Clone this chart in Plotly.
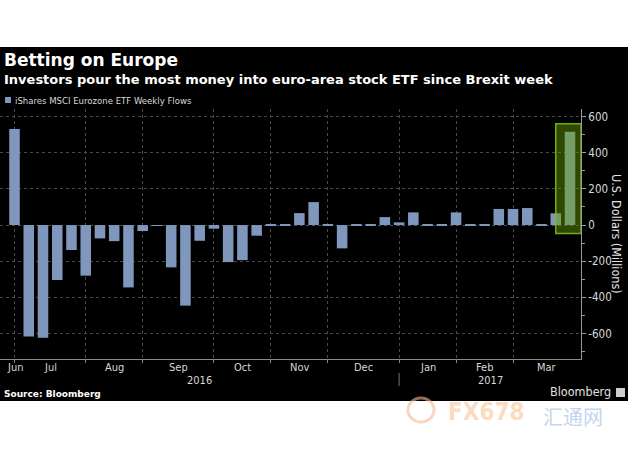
import plotly.graph_objects as go
from datetime import datetime, timedelta

# ---------------- data ----------------
weeks = ["2016-06-24", "2016-07-01", "2016-07-08", "2016-07-15", "2016-07-22", "2016-07-29",
         "2016-08-05", "2016-08-12", "2016-08-19", "2016-08-26",
         "2016-09-02", "2016-09-09", "2016-09-16", "2016-09-23", "2016-09-30",
         "2016-10-07", "2016-10-14", "2016-10-21", "2016-10-28",
         "2016-11-04", "2016-11-11", "2016-11-18", "2016-11-25",
         "2016-12-02", "2016-12-09", "2016-12-16", "2016-12-23", "2016-12-30",
         "2017-01-06", "2017-01-13", "2017-01-20", "2017-01-27",
         "2017-02-03", "2017-02-10", "2017-02-17", "2017-02-24",
         "2017-03-03", "2017-03-10", "2017-03-17", "2017-03-24"]

flows = [531, -616, -623, -304, -138, -280,
         -74, -89, -345, -33,
         -3, -234, -446, -87, -20,
         -205, -194, -59, 3,
         3, 66, 127, 3,
         -129, 3, 3, 44, 15,
         70, 3, 3, 70,
         3, 3, 89, 89,
         94, 3, 65, 516]

month_labels = ["Jun", "Jul", "Aug", "Sep", "Oct", "Nov", "Dec", "Jan", "Feb", "Mar"]
year_labels = ["2016", "2017"]
y_tickvals = [-600, -400, -200, 0, 200, 400, 600]
y_ticktext = ["-600", "-400", "-200", "0", "200", "400", "600"]

series_name = "iShares MSCI Eurozone ETF Weekly Flows"
title = "Betting on Europe"
subtitle = "Investors pour the most money into euro-area stock ETF since Brexit week"
y_title = "U.S. Dollars (Millions)"
source = "Source: Bloomberg"

# ---------------- styling ----------------
BAR = "#7f97bd"
GRID = "#4a4a4a"
TXT = "#d8d8d8"
COND = "DejaVu Sans Condensed, Liberation Sans Narrow, DejaVu Sans, sans-serif"
BOLD = "DejaVu Sans, Verdana, sans-serif"

W, H = 630, 450
ML, MR, MT, MB = 0, 49, 109, 91
PW = W - ML - MR
PH = H - MT - MB


def px(x):
    return (x - ML) / PW


def py(y):
    return (H - MB - y) / PH


dates = [datetime.strptime(d, "%Y-%m-%d") for d in weeks]
x_start = dates[0] - timedelta(days=7.13)
x_end = dates[-1] + timedelta(days=5.4)

# grid at the last week of every month (except the final month)
grid_dates = [d for i, d in enumerate(dates[:-1]) if dates[i + 1].month != d.month]

# month label positions: centred between month boundaries
bounds = grid_dates + [x_end]
label_pos = [dates[0]] + [bounds[i] + (bounds[i + 1] - bounds[i]) / 2 for i in range(len(bounds) - 1)]
label_pos = label_pos[:len(month_labels)]

year_break = [d for d in grid_dates if d.year == 2016][-1]
year_pos = [x_start + (year_break - x_start) / 2, year_break + (x_end - year_break) / 2]

fig = go.Figure()
fig.add_trace(go.Bar(x=dates, y=flows, name=series_name, marker=dict(color=BAR, line=dict(width=0)),
                     showlegend=False))

shapes = []
# black card background
shapes.append(dict(type="rect", xref="paper", yref="paper", x0=px(0), x1=px(628), y0=py(401), y1=py(47),
                   fillcolor="#000000", line=dict(width=0), layer="below"))
# highlight around the latest week
shapes.append(dict(type="rect", xref="x", yref="y", x0=dates[-2], x1=x_end,
                   y0=-47, y1=flows[-1] + 45,
                   fillcolor="rgba(105,165,0,0.45)", line=dict(color="rgba(125,190,20,0.9)", width=1.5),
                   layer="above"))
# legend swatch
shapes.append(dict(type="rect", xref="paper", yref="paper", x0=px(5), x1=px(11), y0=py(103), y1=py(97),
                   fillcolor=BAR, line=dict(width=0)))
# year separator
shapes.append(dict(type="line", xref="x", yref="paper", x0=year_break, x1=year_break, y0=py(373), y1=py(386),
                   line=dict(color="#777777", width=1)))
# bloomberg icon
shapes.append(dict(type="rect", xref="paper", yref="paper", x0=px(616), x1=px(625), y0=py(397), y1=py(388),
                   fillcolor="#cfcfcf", line=dict(width=0)))
# watermark ring
shapes.append(dict(type="circle", xref="paper", yref="paper", x0=px(408), x1=px(434), y0=py(422), y1=py(398),
                   fillcolor="rgba(0,0,0,0)", line=dict(color="rgba(245,185,150,0.6)", width=3)))

ann = []
ann.append(dict(text="<b>" + title + "</b>", xref="paper", yref="paper", x=px(2), y=py(60),
                xanchor="left", yanchor="middle", showarrow=False,
                font=dict(family=BOLD, size=17, color="#ffffff")))
ann.append(dict(text="<b>" + subtitle + "</b>", xref="paper", yref="paper", x=px(2), y=py(80),
                xanchor="left", yanchor="middle", showarrow=False,
                font=dict(family=BOLD, size=13, color="#ffffff")))
ann.append(dict(text=series_name, xref="paper", yref="paper", x=px(13), y=py(100),
                xanchor="left", yanchor="middle", showarrow=False,
                font=dict(family=COND, size=9.5, color=TXT)))
for lab, pos in zip(month_labels, label_pos):
    ann.append(dict(text=lab, xref="x", yref="paper", x=pos, y=py(367), xanchor="center", yanchor="middle",
                    showarrow=False, font=dict(family=COND, size=11, color=TXT)))
for lab, pos in zip(year_labels, year_pos):
    ann.append(dict(text=lab, xref="x", yref="paper", x=pos, y=py(380), xanchor="center", yanchor="middle",
                    showarrow=False, font=dict(family=COND, size=11, color=TXT)))
ann.append(dict(text=y_title, xref="paper", yref="paper", x=px(617), y=py(234), textangle=90,
                xanchor="center", yanchor="middle", showarrow=False,
                font=dict(family=COND, size=12.5, color="#e4e4e4")))
ann.append(dict(text="<b>" + source + "</b>", xref="paper", yref="paper", x=px(2), y=py(394),
                xanchor="left", yanchor="middle", showarrow=False,
                font=dict(family=BOLD, size=9, color="#ffffff")))
ann.append(dict(text="Bloomberg", xref="paper", yref="paper", x=px(613), y=py(391),
                xanchor="right", yanchor="middle", showarrow=False,
                font=dict(family=COND, size=12.5, color="#e0e0e0")))
ann.append(dict(text="<b>FX678</b>", xref="paper", yref="paper", x=px(486), y=py(412),
                xanchor="center", yanchor="middle", showarrow=False,
                font=dict(family=COND, size=24, color="rgba(250,190,140,0.55)")))
ann.append(dict(text="汇通网", xref="paper", yref="paper", x=px(573), y=py(416),
                xanchor="center", yanchor="middle", showarrow=False,
                font=dict(family="Noto Sans CJK SC", size=20, color="rgba(150,185,230,0.6)")))

fig.update_layout(
    width=W, height=H,
    margin=dict(l=ML, r=MR, t=MT, b=MB, pad=0),
    paper_bgcolor="#ffffff",
    plot_bgcolor="#000000",
    bargap=0.26,
    showlegend=False,
    shapes=shapes,
    annotations=ann,
    xaxis=dict(type="date", range=[x_start, x_end], tickvals=grid_dates, showticklabels=False,
               ticks="outside", ticklen=3, tickcolor="#888888",
               showgrid=True, gridcolor=GRID, griddash="dot", gridwidth=1,
               showline=True, linecolor="#8a8a8a", linewidth=1, zeroline=False),
    yaxis=dict(side="right", range=[-741, 642], tickmode="array", tickvals=y_tickvals, ticktext=y_ticktext,
               ticks="outside", ticklen=4, tickcolor="#9a9a9a",
               minor=dict(dtick=100, ticks="outside", ticklen=3, tickcolor="#9a9a9a", showgrid=False),
               tickfont=dict(family=COND, size=11.5, color=TXT),
               showgrid=True, gridcolor=GRID, griddash="dot", gridwidth=1,
               showline=True, linecolor="#9a9a9a", linewidth=1, zeroline=False),
)

fig.write_html("out.html", config={"displayModeBar": False},
               post_script="document.body.style.margin='0';document.body.style.padding='0';")
